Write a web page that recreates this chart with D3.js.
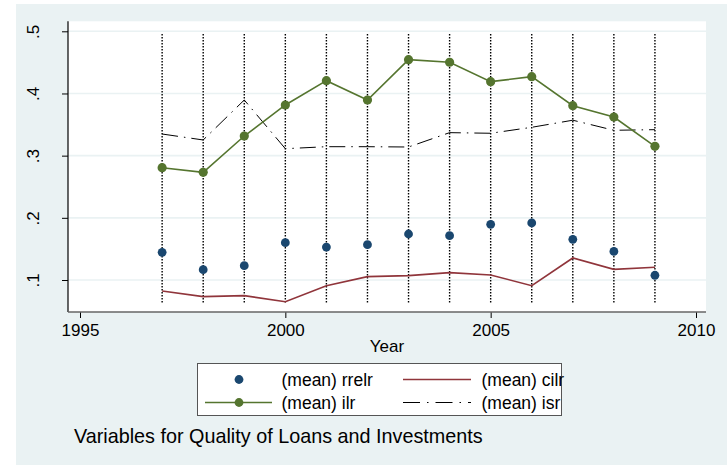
<!DOCTYPE html>
<html>
<head>
<meta charset="utf-8">
<script src="https://cdn.jsdelivr.net/npm/d3@7"></script>
<style>
  html, body { margin: 0; padding: 0; background: #ffffff; }
  svg { display: block; font-family: "Liberation Sans", Arial, Helvetica, sans-serif; }
</style>
</head>
<body>
<svg id="chart" width="727" height="465"></svg>
<script>
// Yearly means of the loan/investment quality ratios
const years = [1997, 1998, 1999, 2000, 2001, 2002, 2003, 2004, 2005, 2006, 2007, 2008, 2009];
const rrelr = [0.1445, 0.1166, 0.1230, 0.1600, 0.1530, 0.1568, 0.1740, 0.1713, 0.1896, 0.1917, 0.1654, 0.1460, 0.1076];
const cilr  = [0.0823, 0.0732, 0.0748, 0.0650, 0.0909, 0.1054, 0.1070, 0.1118, 0.1080, 0.0909, 0.1354, 0.1171, 0.1204];
const ilr   = [0.2806, 0.2732, 0.3316, 0.3815, 0.4206, 0.3895, 0.4544, 0.4502, 0.4190, 0.4270, 0.3804, 0.3620, 0.3150];
const isr   = [0.3348, 0.3252, 0.3895, 0.3112, 0.3144, 0.3144, 0.3139, 0.3370, 0.3360, 0.3456, 0.3570, 0.3408, 0.3418];
// Range spikes drawn for every year
const spikeHi = [0.4957, 0.4957, 0.4957, 0.4957, 0.4957, 0.4957, 0.4957, 0.4957, 0.4957, 0.4957, 0.4957, 0.4957, 0.4957];
const spikeLo = [0.0635, 0.0635, 0.0635, 0.0635, 0.0635, 0.0635, 0.0635, 0.0635, 0.0635, 0.0635, 0.0635, 0.0635, 0.0635];

const xTicks = [1995, 2000, 2005, 2010];
const yTicks = [0.1, 0.2, 0.3, 0.4, 0.5];
const xTitle = "Year";
const noteText = "Variables for Quality of Loans and Investments";
const legendLabels = ["(mean) rrelr", "(mean) cilr", "(mean) ilr", "(mean) isr"];

const colNavy = "#1a476f", colMaroon = "#90353b", colGreen = "#55752f";
const bgColor = "#eaf2f3";

const svg = d3.select("#chart");

// Graph region and plot region
const plot = { left: 68, right: 706, top: 21.3, bottom: 312 };
svg.append("rect").attr("x", 16).attr("y", 4).attr("width", 727 - 16).attr("height", 465 - 4).attr("fill", bgColor);
svg.append("rect").attr("x", plot.left).attr("y", plot.top)
  .attr("width", plot.right - plot.left).attr("height", plot.bottom - plot.top).attr("fill", "#ffffff");

const x = d3.scaleLinear().domain([1995, 2010]).range([80, 696]);
const y = d3.scaleLinear().domain([0.1, 0.5]).range([280, 31.3]);

// Horizontal grid lines
svg.append("g").selectAll("line").data(yTicks).join("line")
  .attr("x1", plot.left).attr("x2", plot.right)
  .attr("y1", d => y(d)).attr("y2", d => y(d))
  .attr("stroke", bgColor).attr("stroke-width", 1.6);

// Axes
const fmtY = v => d3.format(".1f")(v).replace(/^0/, "");
const yAxis = svg.append("g").attr("transform", `translate(${plot.left},0)`)
  .call(d3.axisLeft(y).tickValues(yTicks).tickFormat(fmtY).tickSize(6));
yAxis.select(".domain").remove();
yAxis.selectAll(".tick line").attr("stroke", "#000");
yAxis.selectAll(".tick text")
  .attr("font-size", 17).attr("fill", "#000")
  .attr("text-anchor", "middle").attr("x", 0).attr("y", -29).attr("dy", 0)
  .attr("transform", "rotate(-90)");
svg.append("line").attr("x1", plot.left).attr("x2", plot.left)
  .attr("y1", plot.top).attr("y2", plot.bottom).attr("stroke", "#000").attr("stroke-width", 1.2);

const xAxis = svg.append("g").attr("transform", `translate(0,${plot.bottom})`)
  .call(d3.axisBottom(x).tickValues(xTicks).tickFormat(d3.format("d")).tickSize(6).tickPadding(6));
xAxis.select(".domain").remove();
xAxis.selectAll(".tick line").attr("stroke", "#000");
xAxis.selectAll(".tick text").attr("font-size", 17).attr("fill", "#000");
svg.append("line").attr("x1", plot.left).attr("x2", plot.right)
  .attr("y1", plot.bottom).attr("y2", plot.bottom).attr("stroke", "#666").attr("stroke-width", 1.5);

svg.append("text").attr("x", 387).attr("y", 352).attr("text-anchor", "middle")
  .attr("font-size", 17).attr("fill", "#000").text(xTitle);

// Dotted spikes
svg.append("g").selectAll("line").data(years).join("line")
  .attr("x1", d => x(d)).attr("x2", d => x(d))
  .attr("y1", (d, i) => y(spikeHi[i])).attr("y2", (d, i) => y(spikeLo[i]))
  .attr("stroke", "#000").attr("stroke-width", 1.4).attr("stroke-dasharray", "1.5,1.5");

// Series
const line = vals => d3.line().x((d, i) => x(years[i])).y(d => y(d))(vals);

svg.append("path").attr("d", line(cilr)).attr("fill", "none")
  .attr("stroke", colMaroon).attr("stroke-width", 1.6);
svg.append("path").attr("d", line(isr)).attr("fill", "none")
  .attr("stroke", "#000").attr("stroke-width", 1).attr("stroke-dasharray", "16,6,1.5,6");
svg.append("path").attr("d", line(ilr)).attr("fill", "none")
  .attr("stroke", colGreen).attr("stroke-width", 1.6);
svg.append("g").selectAll("circle").data(ilr).join("circle")
  .attr("cx", (d, i) => x(years[i])).attr("cy", d => y(d)).attr("r", 4.6).attr("fill", colGreen);
svg.append("g").selectAll("circle").data(rrelr).join("circle")
  .attr("cx", (d, i) => x(years[i])).attr("cy", d => y(d)).attr("r", 4.4).attr("fill", colNavy);

// Legend
const lg = svg.append("g");
lg.append("rect").attr("x", 197.5).attr("y", 363.5).attr("width", 364).attr("height", 52)
  .attr("fill", "#ffffff").attr("stroke", "#555").attr("stroke-width", 1);
const row1 = 379.5, row2 = 402.5;
lg.append("circle").attr("cx", 239).attr("cy", row1).attr("r", 4.4).attr("fill", colNavy);
lg.append("line").attr("x1", 403).attr("x2", 471).attr("y1", row1).attr("y2", row1)
  .attr("stroke", colMaroon).attr("stroke-width", 1.6);
lg.append("line").attr("x1", 205).attr("x2", 272).attr("y1", row2).attr("y2", row2)
  .attr("stroke", colGreen).attr("stroke-width", 1.6);
lg.append("circle").attr("cx", 239).attr("cy", row2).attr("r", 4.4).attr("fill", colGreen);
lg.append("line").attr("x1", 403).attr("x2", 471).attr("y1", row2).attr("y2", row2)
  .attr("stroke", "#000").attr("stroke-width", 1).attr("stroke-dasharray", "17,7,1.5,7");
const lpos = [[281.5, row1], [481.5, row1], [281.5, row2], [481.5, row2]];
lg.selectAll("text").data(legendLabels).join("text")
  .attr("x", (d, i) => lpos[i][0]).attr("y", (d, i) => lpos[i][1] + 6)
  .attr("font-size", 17.5).attr("fill", "#000").text(d => d);

// Note
svg.append("text").attr("x", 74).attr("y", 442.5).attr("font-size", 19.8).attr("fill", "#000").text(noteText);
</script>
</body>
</html>
